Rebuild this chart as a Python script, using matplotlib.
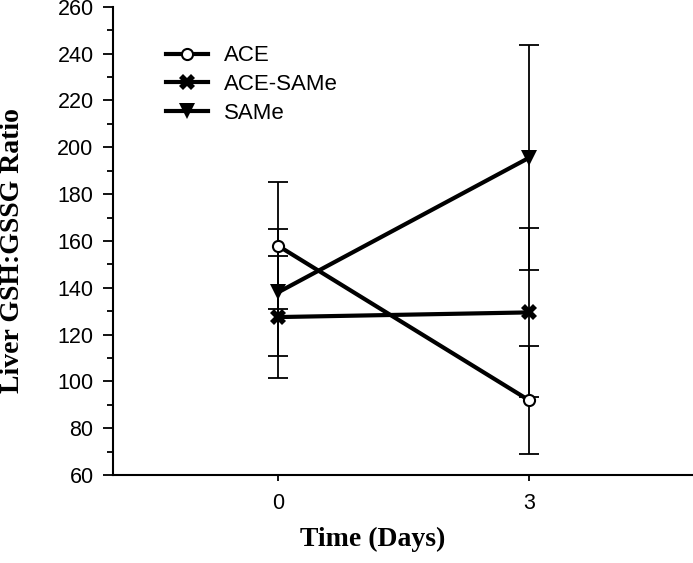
import matplotlib
matplotlib.use('Agg')
import matplotlib.pyplot as plt
from matplotlib.ticker import MultipleLocator

# Datos
dias = [0, 3]
ace = [158, 92]
ace_err = [27, 23]
ace_same = [127.5, 129.5]
ace_same_err = [26, 36]
same = [138, 195.5]
same_err = [27, 48]
etiquetas = ['ACE', 'ACE-SAMe', 'SAMe']

plt.rcParams['font.family'] = ['Liberation Sans', 'DejaVu Sans']

fig = plt.figure(figsize=(6.93, 5.63), dpi=100)
ax = fig.add_axes([0.163, 0.156, 0.837, 0.832])

series = [
    (ace, ace_err, dict(marker='o', markerfacecolor='white', markersize=8, markeredgewidth=1.5)),
    (ace_same, ace_same_err, dict(marker='X', markerfacecolor='black', markersize=11, markeredgewidth=0)),
    (same, same_err, dict(marker='v', markerfacecolor='black', markersize=11, markeredgewidth=0)),
]

lineas = []
for (valores, err, estilo), nombre in zip(series, etiquetas):
    ax.errorbar(dias, valores, yerr=err, fmt='none', ecolor='black',
                elinewidth=1.3, capsize=7, capthick=1.3, zorder=2)
    l, = ax.plot(dias, valores, color='black', linewidth=3, markeredgecolor='black',
                 label=nombre, zorder=3, **estilo)
    lineas.append(l)

ax.set_xlim(-1.97, 4.96)
ax.set_ylim(60, 260)
ax.set_xticks(dias)
ax.yaxis.set_major_locator(MultipleLocator(20))
ax.yaxis.set_minor_locator(MultipleLocator(10))
ax.tick_params(axis='y', which='major', direction='out', length=7, width=1.3,
               labelsize=15.5, pad=7)
ax.tick_params(axis='y', which='minor', direction='out', length=4, width=1.3)
ax.tick_params(axis='x', direction='out', length=4, width=1.3, labelsize=15.5, pad=9)

for lado in ['top', 'right']:
    ax.spines[lado].set_visible(False)
for lado in ['left', 'bottom']:
    ax.spines[lado].set_linewidth(1.5)

ax.set_ylabel('Liver GSH:GSSG Ratio', fontfamily='Liberation Serif', fontweight='bold',
              fontsize=20)
ax.yaxis.set_label_coords(-0.152, 0.48)
ax.set_xlabel('Time (Days)', fontfamily='Liberation Serif', fontweight='bold',
              fontsize=20)
ax.xaxis.set_label_coords(0.448, -0.11)

ax.legend(handles=lineas, loc='upper left', bbox_to_anchor=(0.057, 0.96), frameon=False,
          fontsize=16, handlelength=1.9, labelspacing=0.35, handletextpad=0.7)

fig.savefig('out.png', dpi=100)
